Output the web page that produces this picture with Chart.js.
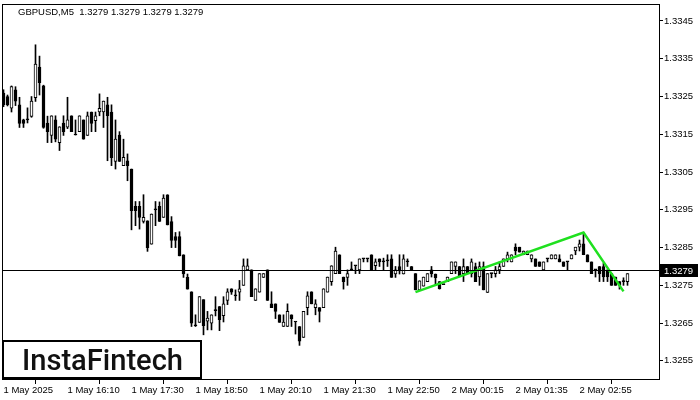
<!DOCTYPE html>
<html>
<head>
<meta charset="utf-8">
<script src="https://cdn.jsdelivr.net/npm/chart.js@4.4.1/dist/chart.umd.min.js"></script>
<style>html,body{margin:0;padding:0;background:#fff}canvas{display:block}</style>
</head>
<body>
<canvas id="chart" width="700" height="400"></canvas>
<script>
const symbolTitle = 'GBPUSD,M5  1.3279 1.3279 1.3279 1.3279'
const brand = 'InstaFintech'

// M5 candles, index 0 = 1 May 14:50
const opens = [1.33259,1.33250,1.33219,1.33268,1.33228,1.33188,1.33188,1.33197,1.33247,1.33328,
1.33278,1.33180,1.33147,1.33188,1.33128,1.33180,1.33169,1.33199,1.33148,1.33157,
1.33188,1.33147,1.33209,1.33186,1.33209,1.33209,1.33228,1.33209,1.33078,1.33148,
1.33067,1.33080,1.33058,1.32959,1.32959,1.32919,1.32921,1.32859,1.32950,1.32959,
1.32930,1.32990,1.32919,1.32879,1.32879,1.32831,1.32771,1.32733,1.32643,1.32652,
1.32712,1.32655,1.32650,1.32683,1.32694,1.32670,1.32710,1.32741,1.32722,1.32732,
1.32750,1.32791,1.32791,1.32710,1.32732,1.32771,1.32791,1.32701,1.32701,1.32672,
1.32641,1.32641,1.32672,1.32653,1.32641,1.32612,1.32691,1.32733,1.32691,1.32691,
1.32691,1.32732,1.32760,1.32781,1.32831,1.32772,1.32771,1.32791,1.32802,1.32791,
1.32820,1.32820,1.32831,1.32802,1.32820,1.32812,1.32815,1.32820,1.32780,1.32800,
1.32780,1.32812,1.32800,1.32781,1.32738,1.32748,1.32760,1.32791,1.32780,1.32760,
1.32752,1.32760,1.32781,1.32800,1.32800,1.32781,1.32800,1.32781,1.32800,1.32772,
1.32800,1.32731,1.32781,1.32781,1.32791,1.32800,1.32820,1.32812,1.32851,1.32851,
1.32831,1.32831,1.32820,1.32820,1.32812,1.32791,1.32820,1.32820,1.32820,1.32820,
1.32812,1.32812,1.32820,1.32841,1.32851,1.32860,1.32831,1.32812,1.32791,1.32800,
1.32800,1.32791,1.32781,1.32772,1.32760,1.32760,1.32760]
const highs = [1.33268,1.33254,1.33278,1.33276,1.33248,1.33190,1.33220,1.33250,1.33387,1.33357,
1.33280,1.33198,1.33199,1.33199,1.33170,1.33199,1.33248,1.33199,1.33188,1.33199,
1.33188,1.33209,1.33209,1.33209,1.33257,1.33238,1.33248,1.33228,1.33188,1.33157,
1.33137,1.33098,1.33058,1.32972,1.32972,1.32990,1.32921,1.32939,1.32972,1.32971,
1.32990,1.32990,1.32932,1.32890,1.32892,1.32831,1.32780,1.32733,1.32672,1.32720,
1.32712,1.32681,1.32672,1.32720,1.32694,1.32720,1.32741,1.32741,1.32738,1.32763,
1.32820,1.32820,1.32791,1.32741,1.32781,1.32781,1.32791,1.32733,1.32701,1.32672,
1.32672,1.32701,1.32672,1.32653,1.32641,1.32681,1.32733,1.32733,1.32712,1.32691,
1.32741,1.32772,1.32802,1.32851,1.32831,1.32772,1.32791,1.32812,1.32802,1.32820,
1.32820,1.32820,1.32831,1.32820,1.32820,1.32822,1.32831,1.32831,1.32800,1.32831,
1.32831,1.32820,1.32800,1.32781,1.32762,1.32772,1.32781,1.32800,1.32780,1.32760,
1.32752,1.32772,1.32812,1.32812,1.32800,1.32820,1.32800,1.32820,1.32809,1.32812,
1.32812,1.32781,1.32781,1.32800,1.32812,1.32820,1.32838,1.32831,1.32860,1.32851,
1.32841,1.32841,1.32831,1.32820,1.32812,1.32812,1.32820,1.32831,1.32831,1.32831,
1.32812,1.32812,1.32831,1.32851,1.32870,1.32890,1.32831,1.32812,1.32791,1.32800,
1.32809,1.32791,1.32781,1.32772,1.32760,1.32770,1.32781]
const lows = [1.33223,1.33225,1.33209,1.33226,1.33168,1.33168,1.33180,1.33195,1.33237,1.33254,
1.33166,1.33128,1.33128,1.33130,1.33107,1.33147,1.33165,1.33157,1.33148,1.33157,
1.33137,1.33147,1.33157,1.33157,1.33199,1.33168,1.33080,1.33067,1.33058,1.33078,
1.33067,1.33027,1.32897,1.32908,1.32899,1.32915,1.32840,1.32859,1.32908,1.32919,
1.32930,1.32910,1.32850,1.32850,1.32828,1.32771,1.32740,1.32641,1.32641,1.32652,
1.32619,1.32632,1.32632,1.32669,1.32630,1.32653,1.32699,1.32726,1.32710,1.32710,
1.32750,1.32791,1.32720,1.32710,1.32732,1.32771,1.32710,1.32691,1.32662,1.32652,
1.32641,1.32641,1.32641,1.32621,1.32591,1.32612,1.32672,1.32701,1.32672,1.32653,
1.32691,1.32732,1.32750,1.32781,1.32781,1.32740,1.32750,1.32791,1.32781,1.32781,
1.32812,1.32812,1.32791,1.32791,1.32800,1.32791,1.32800,1.32771,1.32771,1.32780,
1.32780,1.32800,1.32791,1.32738,1.32738,1.32748,1.32760,1.32772,1.32750,1.32740,
1.32752,1.32760,1.32781,1.32781,1.32773,1.32760,1.32781,1.32772,1.32760,1.32750,
1.32738,1.32731,1.32770,1.32772,1.32781,1.32800,1.32812,1.32812,1.32831,1.32838,
1.32831,1.32831,1.32812,1.32800,1.32800,1.32791,1.32812,1.32820,1.32820,1.32812,
1.32800,1.32791,1.32820,1.32831,1.32841,1.32831,1.32812,1.32781,1.32772,1.32760,
1.32760,1.32760,1.32750,1.32750,1.32740,1.32750,1.32750]
const closes = [1.33228,1.33228,1.33276,1.33238,1.33179,1.33179,1.33188,1.33238,1.33336,1.33287,
1.33168,1.33157,1.33199,1.33137,1.33170,1.33157,1.33188,1.33157,1.33148,1.33199,
1.33137,1.33199,1.33179,1.33199,1.33219,1.33238,1.33199,1.33088,1.33137,1.33078,
1.33089,1.33067,1.32948,1.32948,1.32930,1.32930,1.32850,1.32939,1.32950,1.32919,
1.32981,1.32910,1.32869,1.32869,1.32828,1.32780,1.32740,1.32650,1.32643,1.32720,
1.32643,1.32663,1.32672,1.32683,1.32659,1.32701,1.32733,1.32732,1.32722,1.32741,
1.32802,1.32802,1.32720,1.32741,1.32781,1.32781,1.32710,1.32691,1.32681,1.32652,
1.32653,1.32681,1.32662,1.32653,1.32602,1.32681,1.32722,1.32701,1.32701,1.32681,
1.32741,1.32772,1.32802,1.32841,1.32781,1.32760,1.32781,1.32791,1.32802,1.32820,
1.32820,1.32820,1.32791,1.32812,1.32812,1.32812,1.32815,1.32771,1.32791,1.32791,
1.32820,1.32812,1.32791,1.32738,1.32762,1.32772,1.32781,1.32780,1.32770,1.32741,
1.32752,1.32772,1.32812,1.32812,1.32773,1.32800,1.32781,1.32812,1.32760,1.32800,
1.32738,1.32781,1.32781,1.32791,1.32800,1.32820,1.32831,1.32831,1.32841,1.32838,
1.32841,1.32841,1.32831,1.32800,1.32800,1.32812,1.32820,1.32831,1.32831,1.32812,
1.32800,1.32812,1.32831,1.32851,1.32860,1.32831,1.32812,1.32781,1.32791,1.32781,
1.32772,1.32772,1.32750,1.32750,1.32750,1.32760,1.32781]

const tickAt = [0,16,32,48,64,80,96,112,128,144]
const tickText = ['1 May 2025','1 May 16:10','1 May 17:30','1 May 18:50','1 May 20:10','1 May 21:30','1 May 22:50','2 May 00:15','2 May 01:35','2 May 02:55']
const priceTicks = [1.3255,1.3265,1.3275,1.3285,1.3295,1.3305,1.3315,1.3325,1.3335,1.3345]
const lastPrice = 1.3279

// pattern outline (green)
const patternIdx = [103,145,155]
const patternPrice = [1.32732,1.32890,1.32734]

const FONT = '"Liberation Sans", Arial, sans-serif'

const wicks = opens.map((o,i)=>({ x:i, y:[lows[i], highs[i]] }))
const bodies = opens.map((o,i)=>({ x:i, y:[Math.min(o,closes[i]), Math.max(o,closes[i])] }))
const bodyFill = opens.map((o,i)=> closes[i] > o ? '#ffffff' : '#000000')
const pattern = patternIdx.map((k,i)=>({ x:k, y:patternPrice[i] }))

const overlay = {
  id:'overlay',
  afterDraw(chart){
    const c = chart.ctx, a = chart.chartArea, ys = chart.scales.y
    c.save()
    // price line
    const py = Math.round(ys.getPixelForValue(lastPrice)) + 0.5
    c.strokeStyle = '#000'; c.lineWidth = 1
    c.beginPath(); c.moveTo(a.left, py); c.lineTo(a.right, py); c.stroke()
    // frame
    c.strokeRect(a.left + 0.5, a.top + 0.5, a.width - 1, a.height)
    // price box
    c.fillStyle = '#000'
    c.fillRect(a.right, py - 6.5, 38, 13)
    c.fillStyle = '#fff'; c.font = '9.5px ' + FONT; c.textBaseline = 'middle'; c.textAlign = 'left'
    c.fillText(lastPrice.toFixed(4), a.right + 4, py + 0.5)
    // title
    c.fillStyle = '#000'
    c.fillText(symbolTitle, 18, 12)
    // logo
    c.fillStyle = '#fff'; c.fillRect(3, 341, 198, 37)
    c.strokeStyle = '#000'; c.lineWidth = 2; c.strokeRect(3, 341, 198, 37)
    c.font = '500 30px Roboto'
    const w = c.measureText(brand).width
    const size = 30 * 161 / w
    c.font = '500 ' + size.toFixed(1) + 'px Roboto'
    c.fillStyle = '#111'; c.textBaseline = 'alphabetic'
    c.fillText(brand, 22, 370)
    c.restore()
  }
}

new Chart(document.getElementById('chart'), {
  type:'bar',
  data:{ datasets:[
    { type:'line', data:pattern, borderColor:'#1fe01f', borderWidth:2.5, pointRadius:0, fill:false, order:0 },
    { type:'bar', data:bodies, backgroundColor:bodyFill, borderColor:'#000', borderWidth:1, borderSkipped:false,
      barThickness:3, minBarLength:1, grouped:false, order:1 },
    { type:'bar', data:wicks, backgroundColor:'#000', borderWidth:0, barThickness:1, grouped:false, order:2 }
  ]},
  options:{
    responsive:false, animation:false, devicePixelRatio:1,
    layout:{ padding:{ left:2, top:4, right:0, bottom:0 } },
    plugins:{ legend:{ display:false }, tooltip:{ enabled:false } },
    scales:{
      x:{ type:'linear', min:-0.375, max:164.125, offset:false, bounds:'data',
        afterFit(s){ s.height = 21; s.paddingLeft = 0; s.paddingRight = 0 },
        afterBuildTicks(s){ s.ticks = tickAt.map(v=>({ value:v })) },
        ticks:{ autoSkip:false, maxRotation:0, minRotation:0, align:'start', padding:1, color:'#000',
          font:{ family:FONT, size:9.5 }, callback:(v)=> tickText[tickAt.indexOf(v)] || '' },
        grid:{ drawOnChartArea:false, drawTicks:true, tickLength:5, color:'#000' },
        border:{ display:false }
      },
      y:{ type:'linear', position:'right', min:1.32502, max:1.33495, bounds:'data',
        afterFit(s){ s.width = 40; s.paddingTop = 0; s.paddingBottom = 0 },
        afterBuildTicks(s){ s.ticks = priceTicks.map(v=>({ value:v })) },
        ticks:{ padding:1, color:'#000', font:{ family:FONT, size:9.5 }, callback:(v)=> Number(v).toFixed(4) },
        grid:{ drawOnChartArea:false, drawTicks:true, tickLength:3, color:'#000' },
        border:{ display:false }
      }
    }
  },
  plugins:[overlay]
})
</script>
</body>
</html>
